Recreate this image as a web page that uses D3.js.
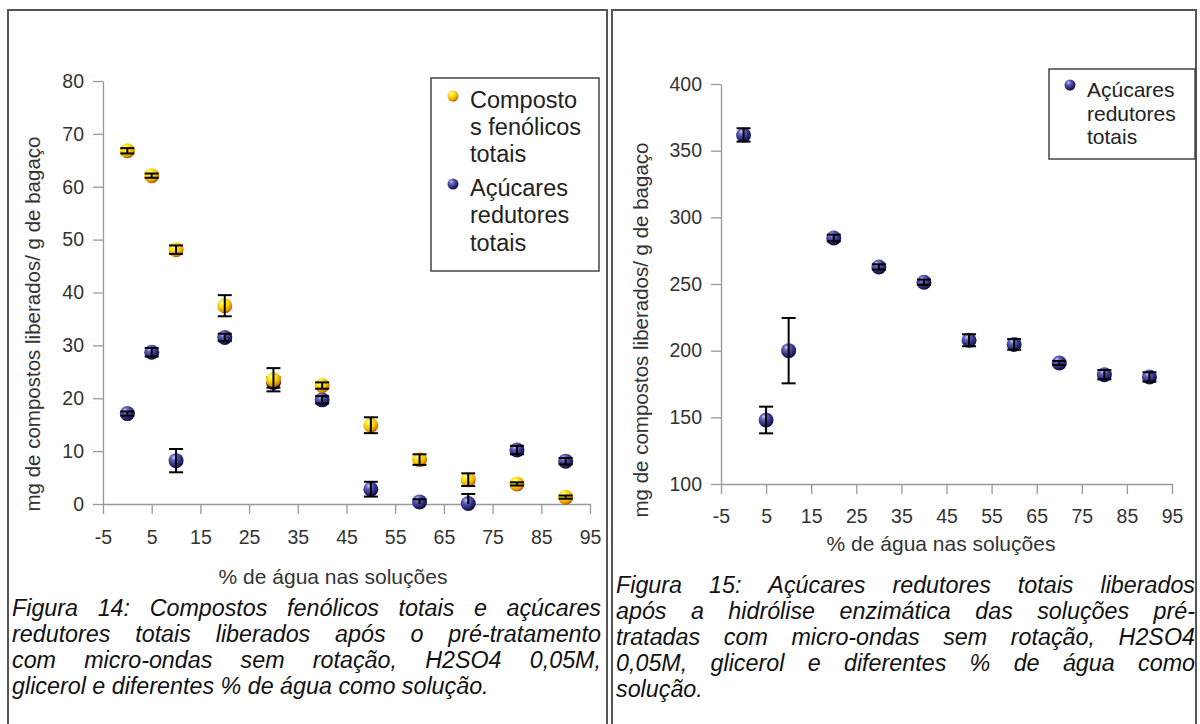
<!DOCTYPE html>
<html><head><meta charset="utf-8">
<script src="https://cdn.jsdelivr.net/npm/d3@7"></script>
<style>
body{margin:0;background:#fff}
svg{display:block}
text{font-family:"Liberation Sans",Arial,Helvetica,sans-serif}
</style>
</head><body>
<svg id="c" width="1200" height="724"></svg>
<script>
// ---------- data ----------
const waterPct      = [0, 5, 10, 20, 30, 40, 50, 60, 70, 80, 90];
const phenolic      = [66.8, 62.1, 48.1, 37.5, 23.5, 22.4, 14.9, 8.4, 4.6, 3.8, 1.3];
const phenolicErr   = [0.5, 0.4, 0.8, 2.0, 2.2, 0.6, 1.5, 1.0, 1.2, 0.3, 0.3];
const sugars        = [17.1, 28.7, 8.2, 31.5, 23.0, 19.7, 2.8, 0.4, 0.1, 10.2, 8.1];
const sugarsErr     = [0.4, 0.8, 2.2, 0.7, 1.0, 0.7, 1.4, 0.5, 1.8, 0.8, 0.6];
const sugarsEnz     = [361.8, 148.0, 200.0, 284.5, 262.8, 251.3, 207.8, 204.7, 190.8, 182.0, 180.3];
const sugarsEnzErr  = [5.0, 10.0, 24.5, 2.5, 2.0, 2.0, 4.5, 4.0, 1.5, 3.5, 3.5];
const xTicks        = [-5, 5, 15, 25, 35, 45, 55, 65, 75, 85, 95];
const yTicksLeft    = [0, 10, 20, 30, 40, 50, 60, 70, 80];
const yTicksRight   = [100, 150, 200, 250, 300, 350, 400];
const xTitle = "% de água nas soluções";
const yTitle = "mg de compostos liberados/ g de bagaço";
const legendLeft = [["Composto", "s fenólicos", "totais"], ["Açúcares", "redutores", "totais"]];
const legendRight = [["Açúcares", "redutores", "totais"]];
const captionLeft = [
  "Figura 14: Compostos fenólicos totais e açúcares",
  "redutores totais liberados após o pré-tratamento",
  "com micro-ondas sem rotação, H2SO4 0,05M,",
  "glicerol e diferentes % de água como solução."
];
const captionRight = [
  "Figura 15: Açúcares redutores totais liberados",
  "após a hidrólise enzimática das soluções pré-",
  "tratadas com micro-ondas sem rotação, H2SO4",
  "0,05M, glicerol e diferentes % de água como",
  "solução."
];

// ---------- setup ----------
const svg = d3.select("#c");
const defs = svg.append("defs");
function grad(id, stops){
  const g = defs.append("radialGradient").attr("id", id)
    .attr("cx","38%").attr("cy","32%").attr("r","70%").attr("fx","35%").attr("fy","28%");
  stops.forEach(s => g.append("stop").attr("offset", s[0]).attr("stop-color", s[1]));
}
grad("gY", [[0,"#fffbd8"],[0.25,"#ffec30"],[0.6,"#f4c400"],[0.85,"#dc8c00"],[1,"#a85000"]]);
grad("gB", [[0,"#d0d0f4"],[0.25,"#6a6ac0"],[0.6,"#34348a"],[0.85,"#1c1c58"],[1,"#0c0c30"]]);

// panel frames
svg.append("rect").attr("x",8).attr("y",10).attr("width",599).attr("height",740)
  .attr("fill","none").attr("stroke","#555").attr("stroke-width",2);
svg.append("rect").attr("x",612).attr("y",10).attr("width",584).attr("height",740)
  .attr("fill","none").attr("stroke","#555").attr("stroke-width",2);

function drawAxes(g, x, y, yTicks, titleX, titleY, yTitleX, yTitleCY, xPad){
  const ax = g.append("g").attr("transform",`translate(0,${y.range()[0]})`)
    .call(d3.axisBottom(x).tickValues(xTicks).tickFormat(d=>String(d))
      .tickSize(10).tickPadding(xPad).tickSizeOuter(0));
  const ay = g.append("g").attr("transform",`translate(${x.range()[0]},0)`)
    .call(d3.axisLeft(y).tickValues(yTicks).tickFormat(d=>String(d))
      .tickSize(10).tickPadding(9).tickSizeOuter(0));
  [ax, ay].forEach(a => {
    a.select(".domain").attr("stroke","#999").attr("stroke-width",1.3);
    a.selectAll(".tick line").attr("stroke","#999").attr("stroke-width",1.3);
    a.selectAll(".tick text").attr("fill","#333").attr("font-size",19.5)
      .attr("font-family",'"Liberation Sans",Arial,sans-serif');
  });
  g.append("text").attr("x", titleX).attr("y", titleY)
    .attr("text-anchor","middle").attr("font-size",21).attr("fill","#333").text(xTitle);
  g.append("text").attr("transform",`translate(${yTitleX},${yTitleCY}) rotate(-90)`)
    .attr("text-anchor","middle").attr("font-size",20.5).attr("fill","#333").text(yTitle);
}

function drawSeries(g, x, y, vals, errs, fill){
  const lo = y.domain()[0];
  const d = waterPct.map((w,i)=>({w, v:vals[i], e:errs[i]}));
  const s = g.append("g");
  s.selectAll("circle").data(d).join("circle")
    .attr("cx", p=>x(p.w)).attr("cy", p=>y(p.v)).attr("r",7.5).attr("fill",fill);
  const eb = s.selectAll("g.eb").data(d).join("g").attr("class","eb")
    .attr("stroke","#000").attr("stroke-width",2);
  eb.append("line").attr("x1",p=>x(p.w)).attr("x2",p=>x(p.w))
    .attr("y1",p=>y(Math.max(lo,p.v-p.e))).attr("y2",p=>y(p.v+p.e));
  eb.append("line").attr("x1",p=>x(p.w)-7).attr("x2",p=>x(p.w)+7)
    .attr("y1",p=>y(p.v+p.e)).attr("y2",p=>y(p.v+p.e));
  eb.filter(p=>p.v-p.e>=lo).append("line").attr("x1",p=>x(p.w)-7).attr("x2",p=>x(p.w)+7)
    .attr("y1",p=>y(p.v-p.e)).attr("y2",p=>y(p.v-p.e));
}

function drawLegend(g, x0, y0, w, h, groups, fills, tx, lh, gapG, fs, firstBase){
  g.append("rect").attr("x",x0).attr("y",y0).attr("width",w).attr("height",h)
    .attr("fill","#fff").attr("stroke","#444").attr("stroke-width",1.5);
  let yy = firstBase;
  groups.forEach((lines,gi)=>{
    g.append("circle").attr("cx",tx-17).attr("cy",yy-12).attr("r",5.5).attr("fill",fills[gi]);
    lines.forEach(t=>{
      g.append("text").attr("x",tx).attr("y",yy).attr("font-size",fs)
        .attr("fill","#222").text(t);
      yy += lh;
    });
    yy += gapG;
  });
}

function caption(lines, x0, x1, base0, lh, fs){
  const g = svg.append("g").attr("font-size",fs).attr("font-style","italic").attr("fill","#111");
  const tmp = g.append("text").text("a a"); const tmp2 = g.append("text").text("aa");
  const sp = tmp.node().getComputedTextLength() - tmp2.node().getComputedTextLength();
  tmp.remove(); tmp2.remove();
  lines.forEach((ln,li)=>{
    const words = ln.split(" ");
    const y = base0 + li*lh;
    const last = li === lines.length-1;
    const els = words.map(w => g.append("text").attr("y",y).text(w));
    const widths = els.map(e => e.node().getComputedTextLength());
    const total = d3.sum(widths);
    const gap = (last || words.length<2) ? sp : (x1-x0-total)/(words.length-1);
    let cx = x0;
    els.forEach((e,i)=>{ e.attr("x",cx); cx += widths[i] + gap; });
  });
}

// ---------- left chart ----------
const xL = d3.scaleLinear().domain([-5,95]).range([103,590]);
const yL = d3.scaleLinear().domain([0,80]).range([504,81]);
const gL = svg.append("g");
drawAxes(gL, xL, yL, yTicksLeft, 333, 584, 40, 324, 16);
drawSeries(gL, xL, yL, sugars, sugarsErr, "url(#gB)");
drawSeries(gL, xL, yL, phenolic, phenolicErr, "url(#gY)");
drawLegend(gL, 431, 78, 168, 193, legendLeft, ["url(#gY)","url(#gB)"], 470, 27.2, 6.5, 23.5, 108);

// ---------- right chart ----------
const xR = d3.scaleLinear().domain([-5,95]).range([721,1172]);
const yR = d3.scaleLinear().domain([100,400]).range([484,84]);
const gR = svg.append("g");
drawAxes(gR, xR, yR, yTicksRight, 941, 551, 648, 330, 15);
drawSeries(gR, xR, yR, sugarsEnz, sugarsEnzErr, "url(#gB)");
drawLegend(gR, 1049, 69, 146, 90, legendRight, ["url(#gB)"], 1087, 23.5, 0, 21, 97);

// ---------- captions ----------
caption(captionLeft, 12, 601, 616, 26, 23.3);
caption(captionRight, 616, 1195, 593, 26, 23.3);
</script>
</body></html>
